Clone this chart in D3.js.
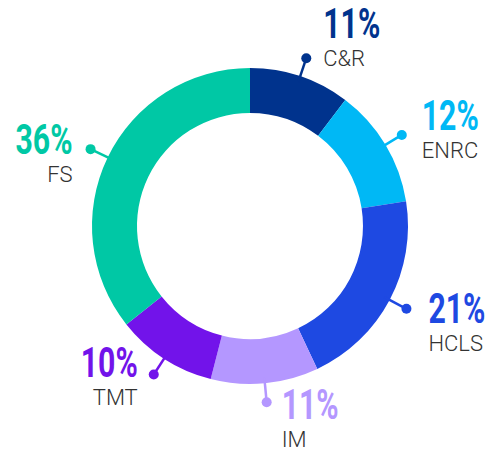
<!DOCTYPE html>
<html>
<head>
<meta charset="utf-8">
<script src="https://cdn.jsdelivr.net/npm/d3@7"></script>
<style>
  body { margin: 0; background: #fff; }
  svg { display: block; }
</style>
</head>
<body>
<div id="chart"></div>
<script>
// sectors, clockwise from 12 o'clock
const sectors = ["C&R", "ENRC", "HCLS", "IM", "TMT", "FS"];
const shares = [10.3, 12.2, 20.5, 11, 10.3, 35.7];   // arc sizes as drawn
const pctLabels = ["11%", "12%", "21%", "11%", "10%", "36%"];
const colors = ["#00338D", "#00B8F5", "#1E49E2", "#B497FF", "#7213EA", "#00C8A5"];

const width = 489, height = 456;
const cx = 250, cy = 226;
const outerR = 158, innerR = 113;
const dotR = 177;

// fine nudges for each callout text block (relative to the dot)
const nudge = {
  "C&R":  { dx: 17,  dy: -20 },
  "ENRC": { dx: 20,  dy: -5 },
  "HCLS": { dx: 22,  dy: 14 },
  "IM":   { dx: 15,  dy: 17 },
  "TMT":  { dx: -16, dy: 2 },
  "FS":   { dx: -18, dy: 5 }
};

const data = sectors.map((s, i) => ({ name: s, value: shares[i], label: pctLabels[i], color: colors[i] }));

const svg = d3.select("#chart").append("svg")
  .attr("width", width)
  .attr("height", height);

const g = svg.append("g").attr("transform", `translate(${cx},${cy})`);

const pie = d3.pie().value(d => d.value).sort(null);
const arc = d3.arc().innerRadius(innerR).outerRadius(outerR);
const arcs = pie(data);

// donut segments
g.selectAll("path.slice")
  .data(arcs)
  .enter().append("path")
  .attr("class", "slice")
  .attr("d", arc)
  .attr("fill", d => d.data.color);

const mid = d => (d.startAngle + d.endAngle) / 2;
const polar = (a, r) => [Math.sin(a) * r, -Math.cos(a) * r];

// callout leader lines
g.selectAll("line.leader")
  .data(arcs)
  .enter().append("line")
  .attr("class", "leader")
  .attr("x1", d => polar(mid(d), outerR - 6)[0])
  .attr("y1", d => polar(mid(d), outerR - 6)[1])
  .attr("x2", d => polar(mid(d), dotR)[0])
  .attr("y2", d => polar(mid(d), dotR)[1])
  .attr("stroke", d => d.data.color)
  .attr("stroke-width", 2.5);

g.selectAll("circle.dot")
  .data(arcs)
  .enter().append("circle")
  .attr("class", "dot")
  .attr("cx", d => polar(mid(d), dotR)[0])
  .attr("cy", d => polar(mid(d), dotR)[1])
  .attr("r", 5)
  .attr("fill", d => d.data.color);

// labels
const labels = g.selectAll("g.label")
  .data(arcs)
  .enter().append("g")
  .attr("class", "label")
  .attr("transform", d => {
    const p = polar(mid(d), dotR);
    const n = nudge[d.data.name];
    return `translate(${p[0] + n.dx},${p[1] + n.dy})`;
  });

const anchor = d => mid(d) > Math.PI ? "end" : "start";

labels.append("text")
  .attr("transform", "scale(0.72,1)")
  .attr("text-anchor", anchor)
  .attr("font-family", "Roboto, sans-serif")
  .attr("font-weight", 700)
  .attr("font-size", 42)
  .attr("fill", d => d.data.color)
  .text(d => d.data.label);

labels.append("text")
  .attr("y", 28)
  .attr("text-anchor", anchor)
  .attr("font-family", "Roboto, sans-serif")
  .attr("font-weight", 300)
  .attr("font-size", 22)
  .attr("fill", "#333")
  .text(d => d.data.name);
</script>
</body>
</html>
